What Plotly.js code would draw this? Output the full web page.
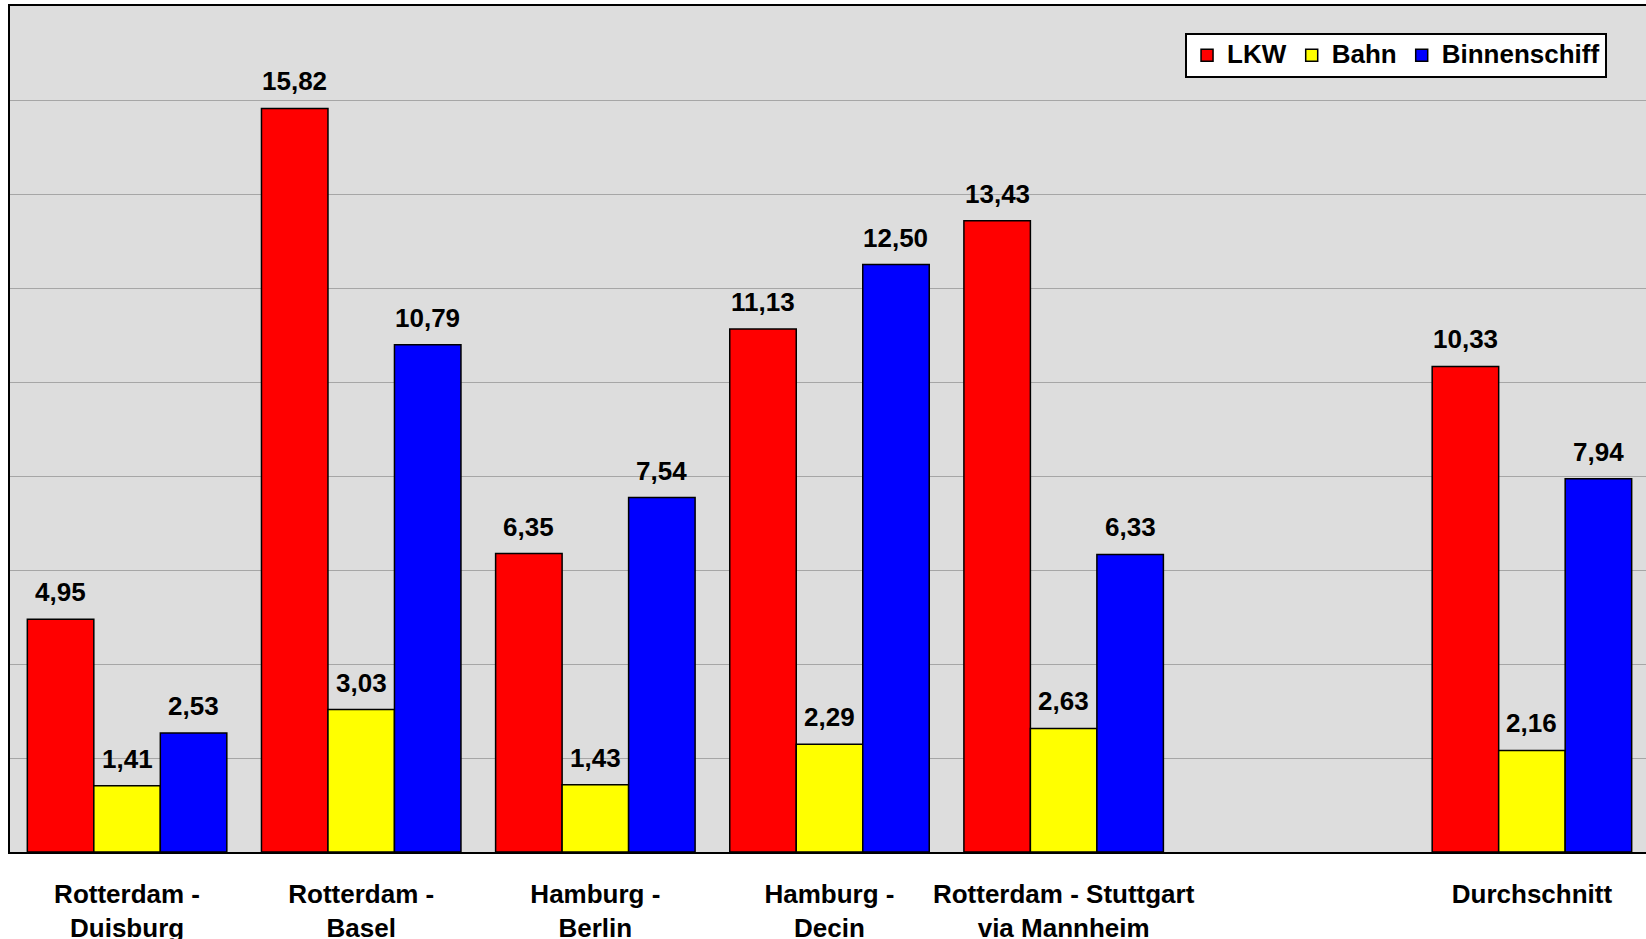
<!DOCTYPE html>
<html>
<head>
<meta charset="utf-8">
<script src="https://cdn.plot.ly/plotly-3.0.1.min.js"></script>
<style>
html,body{margin:0;padding:0;overflow:hidden;background:#fff;}
#chart{width:1650px;height:939px;}
</style>
</head>
<body>
<div id="chart"></div>
<script>
const categories = [
  "Rotterdam -<br>Duisburg",
  "Rotterdam -<br>Basel",
  "Hamburg -<br>Berlin",
  "Hamburg -<br>Decin",
  "Rotterdam - Stuttgart<br>via Mannheim",
  " ",
  "Durchschnitt"
];
const seriesNames = ["LKW", "Bahn", "Binnenschiff"];
const lkw = [4.95, 15.82, 6.35, 11.13, 13.43, null, 10.33];
const bahn = [1.41, 3.03, 1.43, 2.29, 2.63, null, 2.16];
const binnenschiff = [2.53, 10.79, 7.54, 12.50, 6.33, null, 7.94];
const seriesValues = [lkw, bahn, binnenschiff];
const seriesColors = ["#FF0000", "#FFFF00", "#0000FF"];

const FONT = "Liberation Sans, Arial, sans-serif";
const plotLeft = 10, plotRight = 1649;
const bargap = 0.148;
const catWidthPx = (plotRight - plotLeft) / categories.length;
const barWidthPx = catWidthPx * (1 - bargap) / seriesNames.length;

const traces = seriesNames.map((name, s) => ({
  type: "bar",
  name: '<span style="font-size:26px">' + name + '</span>',
  x: categories,
  y: seriesValues[s],
  marker: {color: seriesColors[s], line: {color: "#000000", width: 1.5}},
  hoverinfo: "skip"
}));

const annotations = [];
seriesValues.forEach((vals, s) => {
  vals.forEach((v, i) => {
    if (v === null) return;
    annotations.push({
      x: categories[i], y: v, xref: "x", yref: "y",
      text: v.toFixed(2).replace(".", ","),
      showarrow: false, yanchor: "bottom",
      xshift: (s - 1) * barWidthPx, yshift: 10,
      font: {family: FONT, size: 26, color: "#000", weight: "bold"}
    });
  });
});

const layout = {
  width: 1650, height: 939,
  margin: {l: plotLeft, r: 1650 - plotRight, t: 6, b: 87},
  paper_bgcolor: "#FFFFFF",
  plot_bgcolor: "#DDDDDD",
  barmode: "group",
  bargap: bargap,
  bargroupgap: 0,
  separators: ",.",
  showlegend: true,
  legend: {
    orientation: "h",
    x: 0.9744, xanchor: "right",
    y: 0.968, yanchor: "top",
    bgcolor: "#FFFFFF", bordercolor: "#000000", borderwidth: 2,
    font: {family: FONT, size: 21, color: "#000", weight: "bold"},
    traceorder: "normal",
    itemwidth: 30
  },
  xaxis: {
    type: "category",
    categoryorder: "array", categoryarray: categories,
    range: [-0.5, categories.length - 0.5],
    showline: true, linecolor: "#000000", linewidth: 2, mirror: true,
    showgrid: false, zeroline: false,
    ticks: "", ticklabelstandoff: 18,
    tickfont: {family: FONT, size: 26, color: "#000", weight: "bold"},
    fixedrange: true
  },
  yaxis: {
    range: [0, 18], dtick: 2, tick0: 0,
    showticklabels: false,
    showline: true, linecolor: "#000000", linewidth: 2, mirror: true,
    showgrid: true, gridcolor: "#A6A6A6", gridwidth: 1,
    zeroline: false, ticks: "",
    fixedrange: true
  },
  annotations: annotations,
  font: {family: FONT}
};

Plotly.newPlot("chart", traces, layout, {displayModeBar: false, staticPlot: true});
</script>
</body>
</html>
